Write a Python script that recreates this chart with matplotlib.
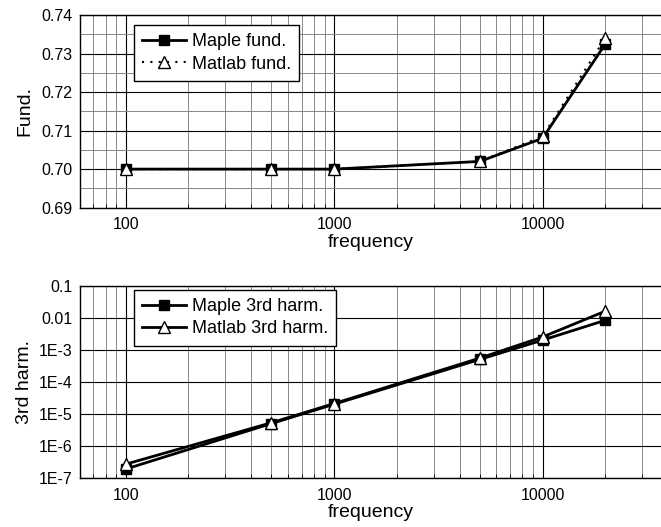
import matplotlib
matplotlib.use("Agg")
import matplotlib.pyplot as plt
from matplotlib.ticker import FixedLocator, FixedFormatter, LogLocator, NullFormatter, MultipleLocator

plt.rcParams['font.family'] = ['Liberation Sans', 'DejaVu Sans']

# data
freq = [100, 500, 1000, 5000, 10000, 20000]
maple_fund = [0.700, 0.700, 0.700, 0.702, 0.708, 0.7325]
matlab_fund = [0.700, 0.700, 0.700, 0.702, 0.7085, 0.734]
maple_3rd = [1.9e-7, 5.0e-6, 2.0e-5, 5.0e-4, 2.0e-3, 8.3e-3]
matlab_3rd = [2.7e-7, 5.3e-6, 2.1e-5, 5.5e-4, 2.5e-3, 1.6e-2]

x_ticks = [100, 1000, 10000]
x_labels = ["100", "1000", "10000"]
fund_ticks = [0.69, 0.70, 0.71, 0.72, 0.73, 0.74]
harm_ticks = [1e-7, 1e-6, 1e-5, 1e-4, 1e-3, 1e-2, 1e-1]
harm_labels = ["1E-7", "1E-6", "1E-5", "1E-4", "1E-3", "0.01", "0.1"]

fig = plt.figure(figsize=(6.61, 5.27), dpi=100)
ax1 = fig.add_axes([0.1203, 0.606, 0.8797, 0.3655])
ax2 = fig.add_axes([0.1203, 0.093, 0.8797, 0.365])


def style_x(ax):
    ax.set_xscale('log')
    ax.set_xlim(60, 37000)
    ax.xaxis.set_major_locator(FixedLocator(x_ticks))
    ax.xaxis.set_major_formatter(FixedFormatter(x_labels))
    ax.xaxis.set_minor_locator(LogLocator(base=10, subs=range(2, 10)))
    ax.xaxis.set_minor_formatter(NullFormatter())
    ax.grid(True, which='major', axis='x', color='black', linewidth=0.8)
    ax.grid(True, which='minor', axis='x', color='#888888', linewidth=0.7)
    ax.tick_params(which='major', direction='in', length=0, labelsize=11.5, pad=7)
    ax.tick_params(which='minor', direction='in', length=3, width=0.6)
    ax.set_xlabel("frequency", fontsize=14, labelpad=1)
    ax.spines['right'].set_visible(False)
    for s in ['top', 'left', 'bottom']:
        ax.spines[s].set_linewidth(1.0)
    ax.set_axisbelow(True)


def style_legend(ax, y_top):
    leg = ax.legend(loc='upper left', bbox_to_anchor=(0.094, y_top), fontsize=13,
                    fancybox=False, framealpha=1, edgecolor='black',
                    handlelength=2.4, handletextpad=0.35, borderpad=0.45,
                    labelspacing=0.3, borderaxespad=0)
    leg.get_frame().set_linewidth(1.0)


# top panel: fundamental
ax1.plot(freq, maple_fund, color='black', linewidth=2, marker='s', markersize=6.5,
         markerfacecolor='black', label="Maple fund.")
ax1.plot(freq, matlab_fund, color='black', linewidth=1.5, linestyle=(0, (1, 3)),
         marker='^', markersize=9, markerfacecolor='white', markeredgecolor='black',
         label="Matlab fund.")
style_x(ax1)
ax1.set_ylim(0.69, 0.74)
ax1.yaxis.set_major_locator(FixedLocator(fund_ticks))
ax1.yaxis.set_major_formatter(FixedFormatter(["%.2f" % v for v in fund_ticks]))
ax1.yaxis.set_minor_locator(MultipleLocator(0.005))
ax1.grid(True, which='major', axis='y', color='black', linewidth=0.8)
ax1.grid(True, which='minor', axis='y', color='#888888', linewidth=0.7)
ax1.tick_params(axis='y', which='minor', length=0)
ax1.tick_params(axis='y', which='major', pad=5)
ax1.set_ylabel("Fund.", fontsize=14, labelpad=6)
style_legend(ax1, 0.948)

# bottom panel: 3rd harmonic
ax2.plot(freq, maple_3rd, color='black', linewidth=2, marker='s', markersize=6.5,
         markerfacecolor='black', label="Maple 3rd harm.")
ax2.plot(freq, matlab_3rd, color='black', linewidth=2,
         marker='^', markersize=9, markerfacecolor='white', markeredgecolor='black',
         label="Matlab 3rd harm.")
style_x(ax2)
ax2.set_yscale('log')
ax2.set_ylim(1e-7, 1e-1)
ax2.yaxis.set_major_locator(FixedLocator(harm_ticks))
ax2.yaxis.set_major_formatter(FixedFormatter(harm_labels))
ax2.yaxis.set_minor_locator(LogLocator(base=10, subs=range(2, 10)))
ax2.yaxis.set_minor_formatter(NullFormatter())
ax2.grid(True, which='major', axis='y', color='black', linewidth=0.8)
ax2.tick_params(axis='y', which='minor', length=3)
ax2.tick_params(axis='y', which='major', pad=5)
ax2.set_ylabel("3rd harm.", fontsize=14, labelpad=4)
style_legend(ax2, 0.978)

plt.savefig("out.png", dpi=100)
